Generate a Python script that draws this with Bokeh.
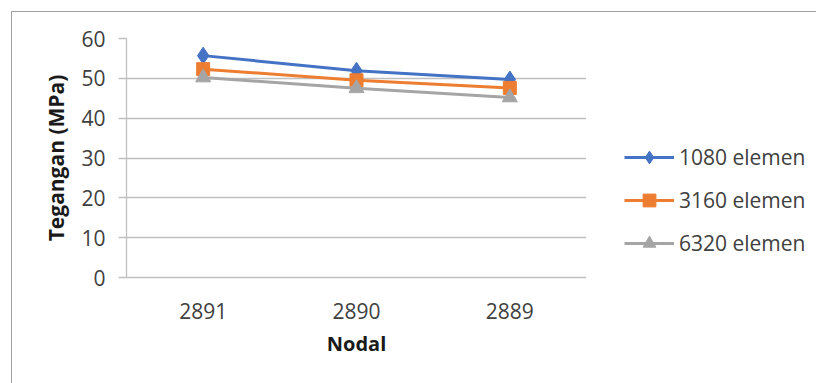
from bokeh.plotting import figure
from bokeh.models import Range1d, FixedTicker, Legend, LegendItem, FactorRange
from bokeh.layouts import row
from bokeh.embed import file_html
from bokeh.resources import INLINE

nodes = ["2891", "2890", "2889"]
s1080 = [55.7, 51.9, 49.7]
s3160 = [52.3, 49.5, 47.6]
s6320 = [50.2, 47.5, 45.2]
series_names = ["1080 elemen", "3160 elemen", "6320 elemen"]
y_ticks = [0, 10, 20, 30, 40, 50, 60]

FONT = "Open Sans"
GRID = "#BFBFBF"
colors = ["#4472C4", "#ED7D31", "#A5A5A5"]
markers = ["diamond", "square", "triangle"]
sizes = [17, 13, 15]
all_series = [s1080, s3160, s6320]

p = figure(x_range=FactorRange(*nodes), y_range=Range1d(0, 60),
           width=574, height=371, output_backend="svg", toolbar_location=None,
           min_border_left=114, min_border_right=0, min_border_top=26,
           min_border_bottom=106)
p.outline_line_color = None
p.background_fill_color = "white"
p.border_fill_color = "white"

p.xgrid.grid_line_color = None
p.ygrid.grid_line_color = GRID
p.ygrid.grid_line_width = 1.3
p.yaxis.ticker = FixedTicker(ticks=y_ticks)

p.yaxis.axis_line_color = GRID
p.yaxis.axis_line_width = 1.3
p.yaxis.major_tick_line_color = GRID
p.yaxis.major_tick_line_width = 1.3
p.yaxis.major_tick_out = 8
p.yaxis.major_tick_in = 0
p.yaxis.minor_tick_line_color = None
p.yaxis.major_label_standoff = 13
p.yaxis.axis_label = "Tegangan (MPa)"
p.yaxis.axis_label_standoff = 8

p.xaxis.axis_line_color = GRID
p.xaxis.axis_line_width = 1.3
p.xaxis.major_tick_line_color = None
p.xaxis.major_label_standoff = 19
p.xaxis.axis_label = "Nodal"
p.xaxis.axis_label_standoff = 8

for ax in (p.xaxis, p.yaxis):
    ax.major_label_text_font = FONT
    ax.major_label_text_font_size = "21px"
    ax.major_label_text_color = "#404040"
    ax.axis_label_text_font = FONT
    ax.axis_label_text_font_style = "bold"
    ax.axis_label_text_color = "#1a1a1a"
p.yaxis.axis_label_text_font_size = "21px"
p.xaxis.axis_label_text_font_size = "20px"

for vals, c, m, s in zip(all_series, colors, markers, sizes):
    p.line(nodes, vals, line_color=c, line_width=3)
    p.scatter(nodes, vals, marker=m, size=s, fill_color=c, line_color=c)

# legend panel (renderers hidden, only used for the legend glyphs)
lg = figure(width=230, height=371, output_backend="svg", toolbar_location=None,
            x_range=FactorRange(*nodes), y_range=Range1d(0, 60),
            min_border=0, min_border_left=0, min_border_right=0,
            min_border_top=0, min_border_bottom=0)
lg.axis.visible = False
lg.grid.grid_line_color = None
lg.outline_line_color = None
lg.background_fill_color = "white"
items = []
for vals, name, c, m, s in zip(all_series, series_names, colors, markers, sizes):
    r1 = lg.line(nodes, vals, line_color=c, line_width=3, visible=False)
    r2 = lg.scatter(nodes, vals, marker=m, size=s, fill_color=c, line_color=c, visible=False)
    items.append(LegendItem(label=name, renderers=[r1, r2]))

legend = Legend(items=items, location=(38, 18), orientation="vertical",
                glyph_width=50, glyph_height=32, label_height=20, spacing=11,
                label_standoff=5, padding=0, margin=0,
                border_line_color=None, background_fill_alpha=0,
                inactive_fill_alpha=0,
                label_text_font=FONT, label_text_font_size="21px",
                label_text_color="#404040")
lg.add_layout(legend)

layout = row(p, lg, spacing=0, margin=(11, 0, 0, 11),
             styles={"border-left": "1px solid #A0A0A0", "border-top": "1px solid #A0A0A0"})

open("out.html", "w").write(file_html(layout, INLINE))
